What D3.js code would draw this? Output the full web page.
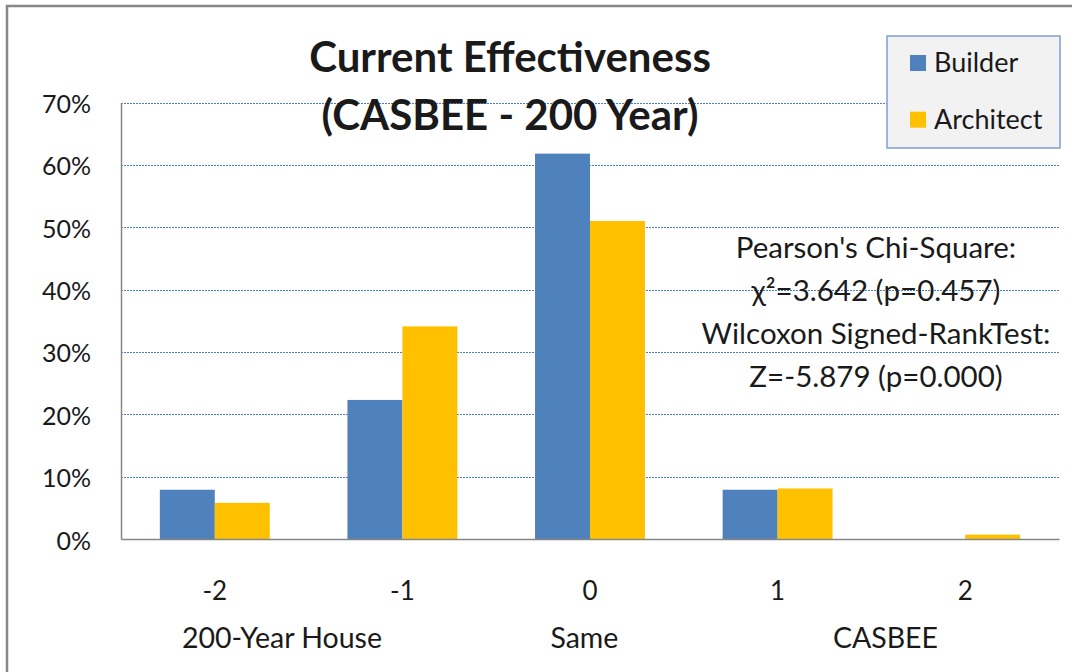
<!DOCTYPE html>
<html><head><meta charset="utf-8">
<script src="https://cdn.jsdelivr.net/npm/d3@7"></script>
<style>body{margin:0;background:#fff}svg{display:block}text{font-family:Lato,"Open Sans",sans-serif;fill:#1a1a1a}</style>
</head><body>
<svg id="c" width="1077" height="672"></svg>
<script>
const categories = ["-2","-1","0","1","2"];
const seriesNames = ["Builder","Architect"];
const builder = [7.9, 22.3, 61.8, 7.9, 0];
const architect = [5.8, 34.1, 51.0, 8.1, 0.7];
const yTicks = [0,10,20,30,40,50,60,70];
const titleLines = ["Current Effectiveness","(CASBEE - 200 Year)"];
const statLines = ["Pearson's Chi-Square:","χ²=3.642 (p=0.457)","Wilcoxon Signed-RankTest:","Z=-5.879 (p=0.000)"];
const groupLabels = [{t:"200-Year House",pos:0.358},{t:"Same",pos:1.97},{t:"CASBEE",pos:3.575}];
const colors = ["#4f81bd","#ffc000"];

const svg = d3.select("#c");
const L=121, R=1059, T=102.5, B=539;
const x = d3.scaleBand().domain(categories).range([L,R]).paddingInner(0).paddingOuter(0);
const xs = d3.scaleBand().domain(seriesNames).range([0,x.bandwidth()]).paddingInner(0).paddingOuter(0.7066);
const y = d3.scaleLinear().domain([0,70]).range([B,T]);

// outer border
svg.append("line").attr("x1",7).attr("x2",7).attr("y1",5).attr("y2",672).attr("stroke","#888").attr("stroke-width",2.5);
svg.append("line").attr("x1",6).attr("x2",1072).attr("y1",6).attr("y2",6).attr("stroke","#888").attr("stroke-width",2.5);

// gridlines
svg.append("g").selectAll("line").data(yTicks.filter(d=>d>0)).join("line")
  .attr("x1",L).attr("x2",R).attr("y1",d=>Math.round(y(d))+0.5).attr("y2",d=>Math.round(y(d))+0.5)
  .attr("stroke","#4a7fc8").attr("stroke-width",1).attr("stroke-dasharray","2,1");

// y axis
const yAxis = d3.axisLeft(y).tickValues(yTicks).tickFormat(d=>d+"%").tickSize(0).tickPadding(30);
const ga = svg.append("g").attr("transform",`translate(${L},0)`).call(yAxis);
ga.select(".domain").attr("stroke","#868686").attr("stroke-width",1.5);
ga.selectAll("text").style("font-family","Lato,sans-serif").style("font-size","25px").attr("fill","#1a1a1a").attr("dy","0.4em");

// bars
const data = categories.map((c,i)=>({c, vals:[builder[i],architect[i]]}));
const g = svg.append("g").selectAll("g").data(data).join("g").attr("transform",d=>`translate(${x(d.c)},0)`);
g.selectAll("rect").data(d=>d.vals.map((v,j)=>({s:seriesNames[j],v,j}))).join("rect")
  .attr("x",d=>xs(d.s)).attr("width",xs.bandwidth())
  .attr("y",d=>y(d.v)).attr("height",d=>B-y(d.v))
  .attr("fill",d=>colors[d.j]);

// x axis
const xAxis = d3.axisBottom(x).tickSize(0).tickPadding(43);
const gx = svg.append("g").attr("transform",`translate(0,${B})`).call(xAxis);
gx.select(".domain").attr("stroke","#868686").attr("stroke-width",1.5);
gx.selectAll("text").style("font-family","Lato,sans-serif").style("font-size","26px").attr("fill","#1a1a1a");

// group labels
const step = x.step();
svg.append("g").selectAll("text").data(groupLabels).join("text")
  .attr("x",d=>L+step*(d.pos+0.5)).attr("y",648).attr("text-anchor","middle")
  .style("font-size","28.5px").text(d=>d.t);

// title
svg.append("g").selectAll("text").data(titleLines).join("text")
  .attr("x",510).attr("y",(d,i)=>72+i*58).attr("text-anchor","middle")
  .style("font-size","42px").style("font-weight","bold").attr("fill","#000").text(d=>d);

// stats annotation
svg.append("g").selectAll("text").data(statLines).join("text")
  .attr("x",876).attr("y",(d,i)=>258+i*43).attr("text-anchor","middle")
  .style("font-size","29.5px").text(d=>d);

// legend
const lg = svg.append("g");
lg.append("rect").attr("x",887).attr("y",36).attr("width",173).attr("height",112).attr("fill","#f2f2f2").attr("stroke","#7f9fd0").attr("stroke-width",1.5);
const li = lg.selectAll("g").data(seriesNames).join("g").attr("transform",(d,i)=>`translate(910,${55+i*56.7})`);
li.append("rect").attr("width",16).attr("height",16).attr("fill",(d,i)=>colors[i]);
li.append("text").attr("x",24).attr("y",17).style("font-size","27px").text(d=>d);
</script>
</body></html>
